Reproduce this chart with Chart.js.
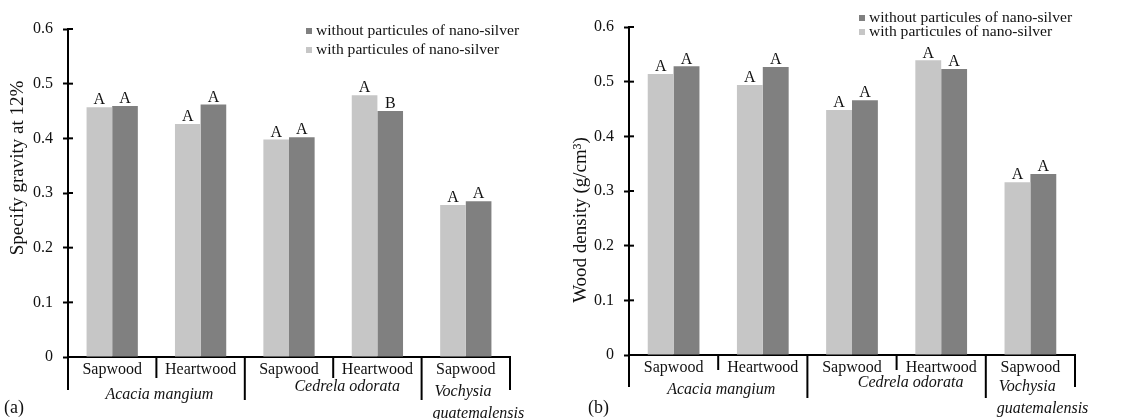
<!DOCTYPE html>
<html>
<head>
<meta charset="utf-8">
<script src="https://cdn.jsdelivr.net/npm/chart.js@4.4.1/dist/chart.umd.min.js"></script>
<style>
    html, body { margin: 0; padding: 0; background: #fff; }
    .panel { position: absolute; top: 0; width: 566px; height: 419px; }
</style>
</head>
<body>
<div class="panel" style="left:0"><canvas id="gravityChart" width="566" height="419"></canvas></div>
<div class="panel" style="left:566px"><canvas id="densityChart" width="566" height="419"></canvas></div>
<script>
const categories = ['Sapwood', 'Heartwood', 'Sapwood', 'Heartwood', 'Sapwood'];
const speciesNames = [['Acacia mangium'], ['Cedrela odorata'], ['Vochysia', 'guatemalensis']];
const speciesSpans = [2, 2, 1];
const yTicks = [0, 0.1, 0.2, 0.3, 0.4, 0.5, 0.6];

const gravityWith = [0.457, 0.426, 0.398, 0.479, 0.278];
const gravityWithout = [0.459, 0.462, 0.402, 0.450, 0.285];
const gravityWithLetters = ['A', 'A', 'A', 'A', 'A'];
const gravityWithoutLetters = ['A', 'A', 'A', 'B', 'A'];

const densityWith = [0.514, 0.494, 0.448, 0.539, 0.316];
const densityWithout = [0.528, 0.527, 0.466, 0.523, 0.331];
const densityWithLetters = ['A', 'A', 'A', 'A', 'A'];
const densityWithoutLetters = ['A', 'A', 'A', 'A', 'A'];

const SERIF = "'Liberation Serif', 'Times New Roman', serif";
const LIGHT = '#c6c6c6';
const DARK = '#808080';

function line(ctx, x1, y1, x2, y2) {
    ctx.beginPath();
    ctx.moveTo(x1, y1);
    ctx.lineTo(x2, y2);
    ctx.stroke();
}

// axis decorations, grouped x labels, letters, legend and titles
const panelPlugin = {
    id: 'panel',
    afterDraw(chart, args, opts) {
        const { ctx, chartArea } = chart;
        const x = chart.scales.x;
        const y = chart.scales.y;
        const { left, right, bottom } = chartArea;

        ctx.save();
        ctx.strokeStyle = '#000';
        ctx.lineWidth = 2;

        y.ticks.forEach((t) => {
            const py = y.getPixelForValue(t.value);
            line(ctx, left, py, left + 5, py);
        });

        line(ctx, left, bottom, left, bottom + opts.axisDrop);
        line(ctx, right, bottom, right, bottom + opts.axisDrop);

        const boundary = (i) => (x.getPixelForValue(i - 1) + x.getPixelForValue(i)) / 2;

        ctx.fillStyle = '#111';
        ctx.font = `italic 16px ${SERIF}`;
        ctx.textBaseline = 'middle';
        let idx = 0;
        speciesSpans.forEach((span, s) => {
            for (let k = 1; k < span; k++) {
                const bx = boundary(idx + k);
                line(ctx, bx, bottom, bx, bottom + opts.shortDrop);
            }
            const names = speciesNames[s];
            if (names.length === 1) {
                const cx = (x.getPixelForValue(idx) + x.getPixelForValue(idx + span - 1)) / 2;
                ctx.textAlign = 'center';
                ctx.fillText(names[0], cx + opts.speciesShift[s], bottom + opts.speciesY[s]);
            } else {
                const lx = boundary(idx) + 13;
                ctx.textAlign = 'left';
                ctx.fillText(names[0], lx, bottom + opts.speciesY[s]);
                ctx.fillText(names[1], lx - 2, bottom + opts.speciesY[s] + 22);
            }
            idx += span;
            if (idx < categories.length) {
                const bx = boundary(idx);
                line(ctx, bx, bottom, bx, bottom + opts.longDrop);
            }
        });

        // significance letters
        ctx.font = `16px ${SERIF}`;
        ctx.textAlign = 'center';
        ctx.textBaseline = 'bottom';
        chart.data.datasets.forEach((ds, i) => {
            chart.getDatasetMeta(i).data.forEach((bar, j) => {
                ctx.fillText(ds.letters[j], bar.x, bar.y + 1);
            });
        });

        // legend, darker series first
        ctx.font = `15.6px ${SERIF}`;
        ctx.textAlign = 'left';
        ctx.textBaseline = 'middle';
        const items = chart.data.datasets.slice().reverse();
        items.forEach((ds, i) => {
            const ly = opts.legendY + i * opts.legendGap;
            ctx.fillStyle = ds.backgroundColor;
            ctx.fillRect(opts.legendX, ly - 3, 6, 6);
            ctx.fillStyle = '#111';
            ctx.fillText(ds.label, opts.legendX + 10, ly);
        });

        // y title
        ctx.save();
        ctx.translate(opts.titleX, opts.titleY);
        ctx.rotate(-Math.PI / 2);
        ctx.textAlign = 'center';
        ctx.font = `19px ${SERIF}`;
        ctx.fillText(opts.title, 0, 0);
        ctx.restore();

        ctx.font = `18px ${SERIF}`;
        ctx.textAlign = 'left';
        ctx.fillText(opts.tag, opts.tagX, 408);
        ctx.restore();
    },
};

function makeChart(id, withValues, withoutValues, withLetters, withoutLetters, layout) {
    return new Chart(document.getElementById(id), {
        type: 'bar',
        data: {
            labels: categories,
            datasets: [
                {
                    label: 'with particules of nano-silver',
                    data: withValues,
                    letters: withLetters,
                    backgroundColor: LIGHT,
                },
                {
                    label: 'without particules of nano-silver',
                    data: withoutValues,
                    letters: withoutLetters,
                    backgroundColor: DARK,
                },
            ],
        },
        options: {
            responsive: false,
            animation: false,
            layout: {
                padding: { left: 0, top: layout.top, right: layout.right, bottom: 0 },
            },
            datasets: {
                bar: { categoryPercentage: 0.58, barPercentage: 1.0 },
            },
            plugins: {
                legend: { display: false },
                tooltip: { enabled: false },
                panel: layout.panel,
            },
            scales: {
                x: {
                    afterFit: (scale) => { scale.height = layout.xHeight; },
                    grid: { display: false, drawTicks: false, tickLength: 0 },
                    border: { display: true, color: '#000', width: 2 },
                    ticks: {
                        color: '#111',
                        padding: layout.xPad,
                        maxRotation: 0,
                        font: { family: SERIF, size: 16 },
                    },
                },
                y: {
                    min: 0,
                    max: 0.6,
                    afterFit: (scale) => { scale.width = layout.yWidth; },
                    afterBuildTicks: (scale) => { scale.ticks = yTicks.map((v) => ({ value: v })); },
                    grid: {
                        drawOnChartArea: false,
                        tickLength: 5,
                        tickColor: '#000',
                        tickWidth: 2,
                    },
                    border: { display: true, color: '#000', width: 2 },
                    ticks: {
                        color: '#111',
                        padding: 10,
                        font: { family: SERIF, size: 16 },
                        callback: (v) => (v === 0 ? '0' : v.toFixed(1)),
                    },
                },
            },
        },
        plugins: [panelPlugin],
    });
}

makeChart('gravityChart', gravityWith, gravityWithout, gravityWithLetters, gravityWithoutLetters, {
    top: 29,
    right: 56,
    xHeight: 62,
    yWidth: 68,
    xPad: 3,
    panel: {
        axisDrop: 33,
        shortDrop: 21,
        longDrop: 43,
        speciesY: [38, 30, 35],
        speciesShift: [3, 14, 0],
        legendX: 306,
        legendY: 31,
        legendGap: 19,
        title: 'Specify gravity at 12%',
        titleX: 18,
        titleY: 168,
        tag: '(a)',
        tagX: 4,
    },
});

makeChart('densityChart', densityWith, densityWithout, densityWithLetters, densityWithoutLetters, {
    top: 27,
    right: 57,
    xHeight: 64,
    yWidth: 63,
    xPad: 3,
    panel: {
        axisDrop: 32,
        shortDrop: 15,
        longDrop: 43,
        speciesY: [35, 28, 32],
        speciesShift: [3, 14, 0],
        legendX: 293,
        legendY: 18,
        legendGap: 14,
        title: 'Wood density (g/cm³)',
        titleX: 15,
        titleY: 220,
        tag: '(b)',
        tagX: 22,
    },
});
</script>
</body>
</html>
